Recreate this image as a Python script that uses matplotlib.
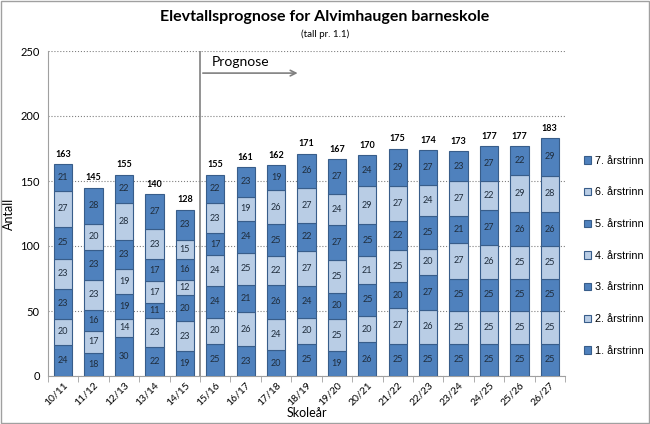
import matplotlib
matplotlib.use('Agg')
import matplotlib.pyplot as plt
import numpy as np

# data
years = ['10/11', '11/12', '12/13', '13/14', '14/15', '15/16', '16/17', '17/18', '18/19',
         '19/20', '20/21', '21/22', '22/23', '23/24', '24/25', '25/26', '26/27']
trinn1 = [24, 18, 30, 22, 19, 25, 23, 20, 25, 19, 26, 25, 25, 25, 25, 25, 25]
trinn2 = [20, 17, 14, 23, 23, 20, 26, 24, 20, 25, 20, 27, 26, 25, 25, 25, 25]
trinn3 = [23, 16, 19, 11, 20, 24, 21, 26, 24, 20, 25, 20, 27, 25, 25, 25, 25]
trinn4 = [23, 23, 19, 17, 12, 24, 25, 22, 27, 25, 21, 25, 20, 27, 26, 25, 25]
trinn5 = [25, 23, 23, 17, 16, 17, 24, 25, 22, 27, 25, 22, 25, 21, 27, 26, 26]
trinn6 = [27, 20, 28, 23, 15, 23, 19, 26, 27, 24, 29, 27, 24, 27, 22, 29, 28]
trinn7 = [21, 28, 22, 27, 23, 22, 23, 19, 26, 27, 24, 29, 27, 23, 27, 22, 29]
labels = ['1. årstrinn', '2. årstrinn', '3. årstrinn', '4. årstrinn',
          '5. årstrinn', '6. årstrinn', '7. årstrinn']

series = [trinn1, trinn2, trinn3, trinn4, trinn5, trinn6, trinn7]
dark = '#4F81BD'
light = '#B9CDE5'
edge = '#385D8A'
font = 'Lato'

fig = plt.figure(figsize=(6.5, 4.24), dpi=100)
ax = fig.add_axes([48/650, 1 - 376/424, (565-48)/650, (376-51)/424])

x = np.arange(len(years))
bottom = np.zeros(len(years))
handles = []
for i, vals in enumerate(series):
    col = dark if i % 2 == 0 else light
    bars = ax.bar(x, vals, 0.6, bottom=bottom, color=col, edgecolor=edge, linewidth=0.8,
                  label=labels[i], zorder=3)
    handles.append(bars)
    for xi, v, b in zip(x, vals, bottom):
        ax.text(xi, b + v / 2, str(v), ha='center', va='center', fontsize=6.5,
                color='#1F2D3D', family=font, zorder=4)
    bottom += np.array(vals)

for xi, tot in zip(x, bottom):
    ax.text(xi, tot + 4, str(int(tot)), ha='center', va='bottom', fontsize=6.5,
            fontweight='bold', family=font)

ax.set_xlim(-0.5, len(years) - 0.5)
ax.set_ylim(0, 250)
ax.set_yticks(range(0, 251, 50))
ax.tick_params(axis='y', length=0, labelsize=8, pad=6)
ax.set_xticks(x)
ax.set_xticklabels(years, rotation=45, ha='right', rotation_mode='anchor', family=font)
for lab in ax.get_yticklabels():
    lab.set_family(font)
ax.set_xticks(np.arange(-0.5, len(years)), minor=True)
ax.tick_params(axis='x', which='major', length=0, labelsize=7.5, pad=3)
ax.tick_params(axis='x', which='minor', length=4, color='#A0A0A0')
ax.yaxis.grid(True, linestyle=':', color='#808080', linewidth=0.8, zorder=0)
for s in ['top', 'right']:
    ax.spines[s].set_visible(False)
ax.spines['left'].set_color('#A0A0A0')
ax.spines['bottom'].set_color('#A0A0A0')

ax.set_xlabel('Skoleår', fontsize=9, family=font, labelpad=0)
ax.set_ylabel('Antall', fontsize=9, family=font, labelpad=4)

# prognose marker
ax.axvline(4.5, color='#808080', linewidth=1.2, zorder=5)
ax.annotate('', xy=(7.8, 233), xytext=(4.5, 233),
            arrowprops=dict(arrowstyle='->', color='#808080', lw=1.2))
ax.text(4.9, 237, 'Prognose', fontsize=10, family=font, va='bottom')

fig.text(0.5, 1 - 17/424, 'Elevtallsprognose for Alvimhaugen barneskole', ha='center',
         va='center', fontsize=11.5, fontweight='bold', family=font)
fig.text(0.5, 1 - 34/424, '(tall pr. 1.1)', ha='center', va='center', fontsize=7, family=font)

leg = fig.legend(handles[::-1], labels[::-1], loc='upper left', bbox_to_anchor=(574/650, 1 - 146/424),
                 frameon=False, labelspacing=2.0, handlelength=0.7, handleheight=0.7,
                 handletextpad=0.3, prop={'family': 'Liberation Sans', 'size': 7.8})

fig.patches.append(plt.Rectangle((0.002, 0.002), 0.996, 0.996, transform=fig.transFigure,
                                 fill=False, edgecolor='#A0A0A0', linewidth=1))

fig.savefig('out.png', dpi=100)
